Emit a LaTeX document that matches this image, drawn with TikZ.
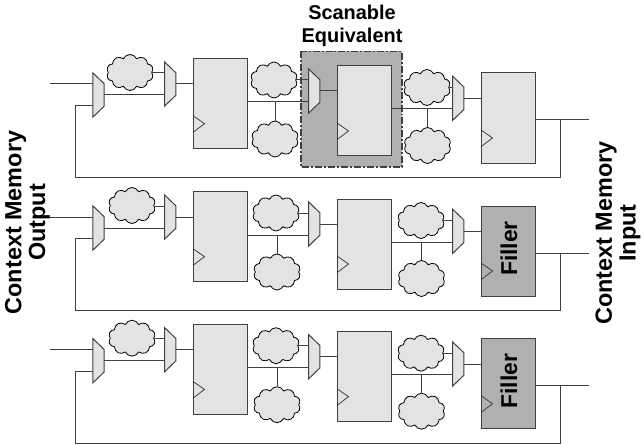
\documentclass[tikz,border=0pt]{standalone}
\usepackage{fontspec}
\setmainfont{Liberation Sans}
\usetikzlibrary{shapes.symbols}
\definecolor{ligne}{RGB}{64,64,64}
\definecolor{clair}{RGB}{227,227,227}
\definecolor{fonce}{RGB}{176,176,176}
\tikzset{
  ffbox/.style={draw=ligne,fill=clair,line width=1pt,minimum width=54bp,minimum height=90bp,inner sep=0pt},
  fillerbox/.style={ffbox,fill=fonce},
  muxbox/.style={minimum width=11bp,minimum height=44bp,inner sep=0pt},
  puff/.style={draw=black,fill=clair,line width=0.8pt,cloud,cloud puffs=10,cloud puff arc=130,aspect=1.3,minimum width=47bp,minimum height=36bp,inner sep=1pt},
  wire/.style={draw=ligne,line width=1pt},
  titre/.style={font=\bfseries\fontsize{20}{23}\selectfont,align=center},
  cote/.style={font=\bfseries\fontsize{23.5}{24}\selectfont,align=center,rotate=90}
}
\newcommand{\muxat}[3]{
  \node[muxbox] (#1) at (#2,#3) {};
  \draw[draw=ligne,fill=clair,line width=1pt] (#1.north west) -- ([yshift=-11bp]#1.north east) -- ([yshift=11bp]#1.south east) -- (#1.south west) -- cycle;
}
\begin{document}
\begin{tikzpicture}[x=1bp,y=-1bp]
\useasboundingbox (0,0) rectangle (643,445);
\fill[fonce] (301,51.5) rectangle (402,167);
\draw[ligne,line width=1.2pt,dash pattern=on 7pt off 2pt on 2pt off 2pt] (301,51.5) rectangle (402,167);
\node[titre] (scan) at (352,25.5) {Scanable\\Equivalent};
\node[cote] (ctxout) at (27.5,222.5) {Context Memory\\Output};
\node[cote] (ctxin) at (618,233) {Context Memory\\Input};
\foreach \r/\dy/\ffstyle/\fftext/\dxa/\dxb in {a/0/ffbox/{}/0/0,b/133/fillerbox/Filler/2/-6,c/265.7/fillerbox/Filler/2/-6} {
\begin{scope}[yshift=-\dy bp]
  % portes et bascules
  \muxat{\r m1}{98.5}{95}
  \muxat{\r m2}{170.2}{84}
  \muxat{\r m3}{314.2}{91}
  \muxat{\r m4}{458.2}{98.3}
  \node[ffbox] (\r f1) at (220.5,103.7) {};
  \node[ffbox] (\r f2) at (364.5,111) {};
  \node[\ffstyle] (\r f3) at (508.5,118) {};
  \node[font=\bfseries\fontsize{23}{24}\selectfont,rotate=90] (\r t) at (509,115.5) {\fftext};
  \node[puff] (\r c1) at (130+\dxa,72.5) {};
  \node[puff] (\r c2) at (274+\dxa,80) {};
  \node[puff] (\r c3) at (275+\dxa,139) {};
  \node[puff] (\r c4) at (427+\dxb,87.5) {};
  \node[puff] (\r c5) at (427.5+\dxb,145.5) {};
  \coordinate (\r in) at (50,84);
  \coordinate (\r out) at (589,120);
  \coordinate (\r j) at (560.5,120);
  \coordinate (\r bg) at (75,177.5);
  % fils
  \draw[wire] (\r in) -- (\r m1.west |- \r in);
  \draw[wire] (\r m1.east) -- (\r m2.west |- \r m1.east);
  \draw[wire] (\r m2.east) -- (\r f1.west |- \r m2.east);
  \draw[wire] (\r c1.east |- 0,73) -- (\r m2.west |- 0,73);
  \draw[wire] (\r f1.east |- 0,102) -- (\r m3.west |- 0,102);
  \draw[wire] (\r c2.east |- 0,80) -- (\r m3.west |- 0,80);
  \draw[wire] (\r c3.north |- 0,102) -- (\r c3.north);
  \draw[wire] (\r m3.east) -- (\r f2.west |- \r m3.east);
  \draw[wire] (\r f2.east |- 0,109) -- (\r m4.west |- 0,109);
  \draw[wire] (\r c4.east |- 0,87.7) -- (\r m4.west |- 0,87.7);
  \draw[wire] (\r c5.north |- 0,109) -- (\r c5.north);
  \draw[wire] (\r m4.east) -- (\r f3.west |- \r m4.east);
  \draw[wire] (\r f3.east |- \r out) -- (\r out);
  \draw[wire] (\r j) |- (\r bg) |- (\r m1.west |- 0,105.7);
  % horloges
  \foreach \f in {f1,f2,f3} {
    \draw[ligne,line width=0.8pt] (\r\f.south west) ++(0,-33.5) -- ++(11.5,8) -- ++(-11.5,8.7);
  }
\end{scope}
}
\end{tikzpicture}
\end{document}
